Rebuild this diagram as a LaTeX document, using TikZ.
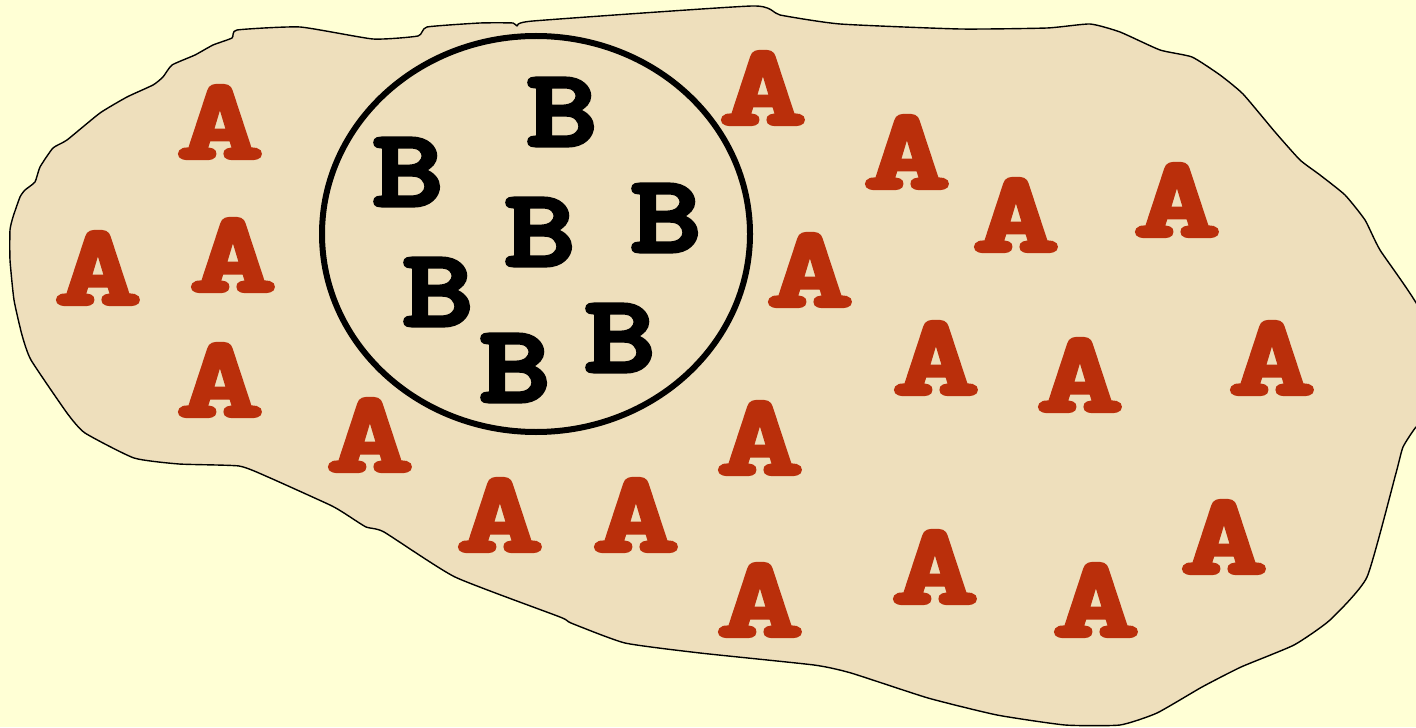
\documentclass[tikz,border=0pt]{standalone}
\usepackage{fontspec}
\usepackage{graphicx}
\newfontfamily\heavyfont{lmmonolt10-bold}[Extension=.otf, FakeBold=3.5]
\definecolor{bgyellow}{HTML}{FFFFD5}
\definecolor{parch}{HTML}{EEDFBC}
\definecolor{letterA}{HTML}{BA2F0B}
\tikzset{
  lettA/.style={text=letterA, inner sep=0pt, font=\heavyfont\fontsize{58}{58}\selectfont},
  lettB/.style={text=black, inner sep=0pt, font=\heavyfont\fontsize{55}{55}\selectfont},
  blob/.style={draw=black, line width=0.7pt, fill=parch, line join=round},
  ring/.style={draw=black, line width=3pt}
}
\newcommand{\wideA}{\scalebox{1.42}[1]{A}}
\newcommand{\wideB}{\scalebox{1.22}[1]{B}}
\begin{document}
\begin{tikzpicture}[x=0.5pt,y=-0.5pt]
\fill[bgyellow] (0,0) rectangle (1416,727);
\useasboundingbox (0,0) rectangle (1416,727);
\begin{scope}
\clip (0,0) rectangle (1416,727);
\draw[blob] plot[smooth cycle, tension=0.3] coordinates {
(237,30) (300,27) (373,39) (418,36) (427,27) (480,23) (513,23) (517,26) (533,21)
(752,6) (780,15) (840,24) (960,29) (1047,28) (1090,24) (1120,32) (1160,50)
(1192,57) (1220,75) (1243,94) (1275,132) (1300,160) (1320,175) (1345,195)
(1365,220) (1380,250) (1425,320) (1428,420) (1416,427) (1403,447) (1396,473)
(1367,577) (1330,620) (1294,645) (1241,667) (1202,687) (1157,713) (1120,725)
(1065,725) (997,715) (928,698) (851,673) (814,665) (700,653) (625,643)
(571,623) (560,617) (455,577) (384,532) (366,527) (344,513) (330,505)
(268,477) (239,466) (179,464) (134,458) (85,433) (67,413) (31,360) (22,335)
(14,300) (10,260) (10,230) (13,217) (20,197) (25,190) (35,182) (40,167)
(53,148) (67,140) (100,113) (127,97) (153,85) (163,77) (172,65) (195,55)
(213,45) (232,38)};
\end{scope}
\draw[ring] (536,234) ellipse [x radius=214, y radius=198];
% A letters
\node[lettA] (a1)  at (220,122) {\wideA};
\node[lettA] (a2)  at (98,268)  {\wideA};
\node[lettA] (a3)  at (233,255) {\wideA};
\node[lettA] (a4)  at (220,380) {\wideA};
\node[lettA] (a5)  at (370,435) {\wideA};
\node[lettA] (a6)  at (763,88)  {\wideA};
\node[lettA] (a7)  at (907,152) {\wideA};
\node[lettA] (a8)  at (1016,215) {\wideA};
\node[lettA] (a9)  at (1177,200) {\wideA};
\node[lettA] (a10) at (810,270) {\wideA};
\node[lettA] (a11) at (936,358) {\wideA};
\node[lettA] (a12) at (1080,375) {\wideA};
\node[lettA] (a13) at (1272,358) {\wideA};
\node[lettA] (a14) at (760,438) {\wideA};
\node[lettA] (a15) at (500,515) {\wideA};
\node[lettA] (a16) at (636,515) {\wideA};
\node[lettA] (a17) at (760,600) {\wideA};
\node[lettA] (a18) at (935,567) {\wideA};
\node[lettA] (a19) at (1096,600) {\wideA};
\node[lettA] (a20) at (1224,537) {\wideA};
% B letters
\node[lettB] (b1) at (562,112) {\wideB};
\node[lettB] (b2) at (408,172) {\wideB};
\node[lettB] (b3) at (666,218) {\wideB};
\node[lettB] (b4) at (540,232) {\wideB};
\node[lettB] (b5) at (438,292) {\wideB};
\node[lettB] (b6) at (620,338) {\wideB};
\node[lettB] (b7) at (515,368) {\wideB};
\end{tikzpicture}
\end{document}
